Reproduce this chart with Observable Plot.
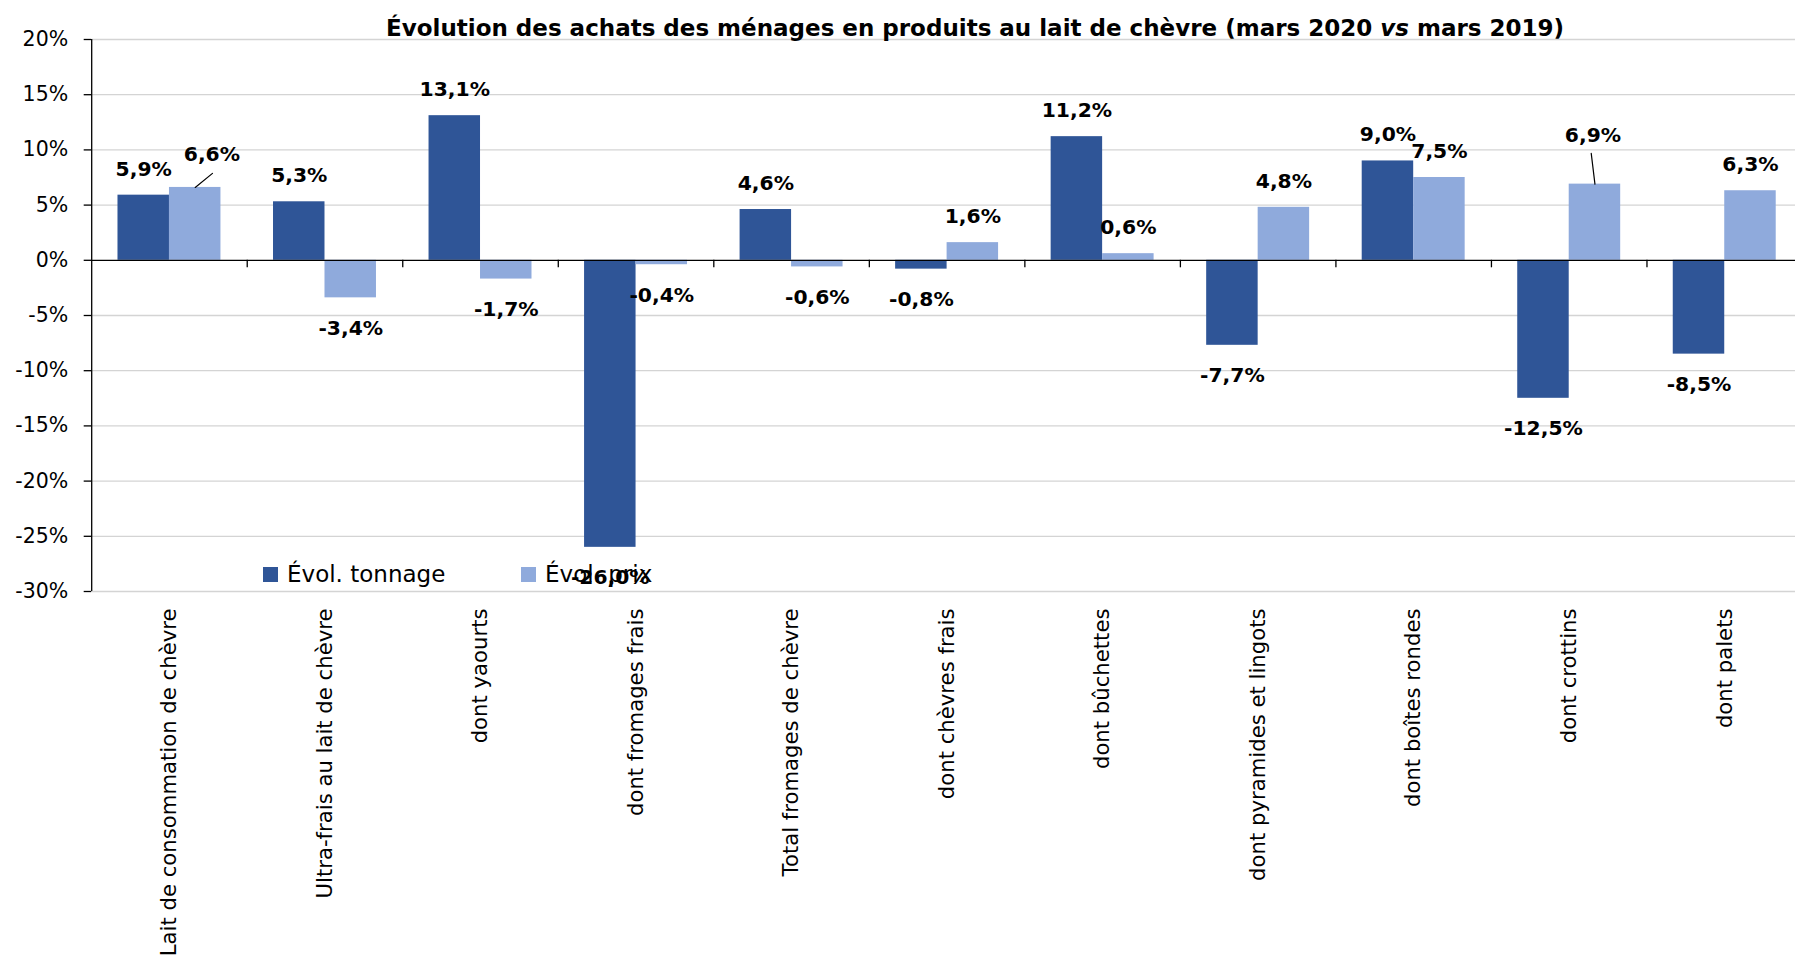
<!DOCTYPE html>
<html>
<head>
<meta charset="utf-8">
<script src="https://cdn.jsdelivr.net/npm/d3@7"></script>
<script src="https://cdn.jsdelivr.net/npm/@observablehq/plot@0.6"></script>
<style>
  html, body { margin: 0; padding: 0; background: #fff; overflow: hidden; }
  #wrap { position: relative; width: 1802px; height: 962px; overflow: hidden; }
  #chart { position: absolute; left: 0; top: 0; }
  #title { position: absolute; left: 975px; top: 17px; transform: translateX(-50%); white-space: nowrap;
           font-family: "DejaVu Sans"; font-weight: bold; font-size: 23px; line-height: 23px; color: #000; }
  #legend { position: absolute; left: 263px; top: 562.5px; display: flex;
            font-family: "DejaVu Sans"; font-size: 23px; line-height: 23px; color: #000; }
  .item { display: flex; align-items: flex-start; white-space: nowrap; }
  .sw { display: inline-block; width: 15px; height: 15px; margin-top: 4.2px; margin-right: 9px; }
</style>
</head>
<body>
<div id="wrap">
  <div id="chart"></div>
  <div id="title">Évolution des achats des ménages en produits au lait de chèvre (mars 2020 <i>vs</i> mars 2019)</div>
  <div id="legend"></div>
</div>
<script>
// ---------- data ----------
const categories = [
  "Lait de consommation de chèvre",
  "Ultra-frais au lait de chèvre",
  "dont yaourts",
  "dont fromages frais",
  "Total fromages de chèvre",
  "dont chèvres frais",
  "dont bûchettes",
  "dont pyramides et lingots",
  "dont boîtes rondes",
  "dont crottins",
  "dont palets"
];
const seriesNames = ["Évol. tonnage", "Évol. prix"];
const tonnage = [5.9, 5.3, 13.1, -26.0, 4.6, -0.8, 11.2, -7.7, 9.0, -12.5, -8.5];
const prix    = [6.6, -3.4, -1.7, -0.4, -0.6, 1.6, 0.6, 4.8, 7.5, 6.9, 6.3];
const yTicks  = [-30, -25, -20, -15, -10, -5, 0, 5, 10, 15, 20];
const colors  = ["#2F5597", "#8FAADC"];

// ---------- layout ----------
const W = 1802, H = 962, ML = 91.2, MR = 0, MT = 39, YBOTTOM = 591;
const PI = 0.338, PO = PI / 2;
const step = (W - ML - MR) / (categories.length - PI + 2 * PO);
const bw = step * (1 - PI);
const LABEL_UP = 26, LABEL_DOWN = 30.5;
// labels that were moved by hand in the original, with their leader lines
const moves = [
  {cat: categories[0], key: "prix", dx: 16.7, dy: -7.3, len: 22.3, rot: 50.8},
  {cat: categories[9], key: "prix", dx: -2, dy: -23, len: 31, rot: -6.9}
];

const rows = categories.map((c, i) => ({cat: c, tonnage: tonnage[i], prix: prix[i]}));
const fmt = v => v.toFixed(1).replace(".", ",") + "%";
const leader = {draw(ctx, l) { ctx.moveTo(0, 0); ctx.lineTo(0, -l); }};

function labelMarks(key, dxBase) {
  const isMoved = d => moves.some(m => m.cat === d.cat && m.key === key);
  const base = {x: "cat", y: key, text: d => fmt(d[key]), fontFamily: "DejaVu Sans",
                fontWeight: "bold", fontSize: 20.3, fill: "#000"};
  const out = [
    Plot.text(rows.filter(d => d[key] >= 0 && !isMoved(d)), {...base, dx: dxBase, dy: -LABEL_UP}),
    Plot.text(rows.filter(d => d[key] < 0 && !isMoved(d)), {...base, dx: dxBase, dy: LABEL_DOWN})
  ];
  for (const m of moves.filter(m => m.key === key)) {
    const d = rows.filter(r => r.cat === m.cat);
    out.push(Plot.vector(d, {x: "cat", y: key, dx: dxBase, length: m.len, rotate: m.rot,
                             anchor: "start", shape: leader, stroke: "#000", strokeWidth: 1.2}));
    out.push(Plot.text(d, {...base, dx: dxBase + m.dx, dy: -LABEL_UP + m.dy}));
  }
  return out;
}

const svg = Plot.plot({
  width: W, height: H,
  marginLeft: ML, marginRight: MR, marginTop: MT, marginBottom: H - YBOTTOM,
  x: {domain: categories, paddingInner: PI, paddingOuter: PO, align: 0.5, round: false, label: null},
  y: {domain: [-30, 20], label: null},
  style: {fontFamily: "DejaVu Sans", fontSize: "20px", color: "#000", background: "transparent",
          maxWidth: "none", overflow: "visible"},
  marks: [
    Plot.ruleY(yTicks.filter(t => t !== 0), {stroke: "#d4d4d4", strokeWidth: 1.3}),
    Plot.barY(rows, {x: "cat", y: "tonnage", fill: colors[0], insetRight: bw / 2}),
    Plot.barY(rows, {x: "cat", y: "prix", fill: colors[1], insetLeft: bw / 2}),
    Plot.ruleY([0], {stroke: "#000", strokeWidth: 1.3}),
    Plot.ruleX([categories[0]], {x: d => d, dx: -step / 2, stroke: "#000", strokeWidth: 1.3}),
    Plot.ruleX(categories.slice(1), {x: d => d, y1: 0, y2: 0, dx: -step / 2, insetBottom: -7.5,
                                     stroke: "#000", strokeWidth: 1.3}),
    Plot.axisY({ticks: yTicks, tickFormat: d => d + "%", tickSize: 7.5, tickPadding: 16,
                fontSize: 20.5, stroke: "#000", strokeWidth: 1.3}),
    Plot.axisX({tickRotate: -90, tickSize: 0, tickPadding: 17, fontSize: 21.2}),
    ...labelMarks("tonnage", -bw / 4),
    ...labelMarks("prix", bw / 4)
  ]
});
document.getElementById("chart").appendChild(svg);

// legend
const legend = document.getElementById("legend");
seriesNames.forEach((name, i) => {
  const item = document.createElement("div");
  item.className = "item";
  if (i === 0) item.style.width = "258px";
  const sw = document.createElement("span");
  sw.className = "sw";
  sw.style.background = colors[i];
  item.appendChild(sw);
  item.appendChild(document.createTextNode(name));
  legend.appendChild(item);
});
</script>
</body>
</html>
